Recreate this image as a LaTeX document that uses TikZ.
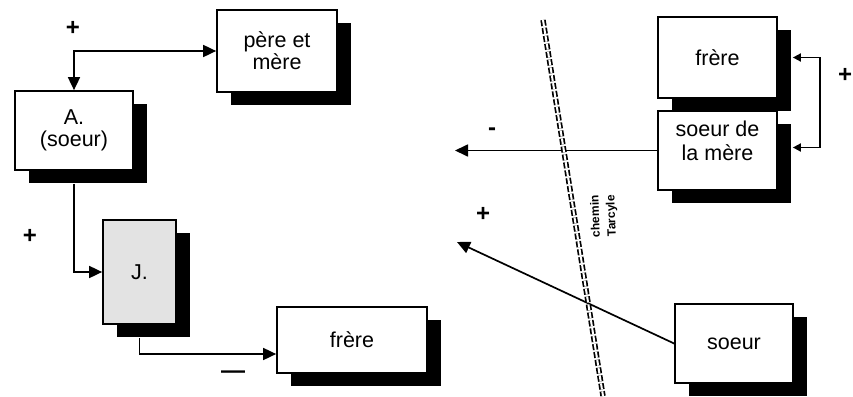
\documentclass[tikz,border=0pt]{standalone}
\usepackage{fontspec}
\setmainfont{Liberation Sans}
\usetikzlibrary{arrows.meta,shadows}

\begin{document}
\begin{tikzpicture}
    [x=1pt, y=-1pt, >={Triangle[length=13pt,width=12pt]},
     box/.style={draw, line width=1.7pt, fill=white, align=center, inner sep=0pt,
       font=\fontsize{21.5}{22}\selectfont,
       drop shadow={shadow xshift=14pt, shadow yshift=-13pt, fill=black, opacity=1}},
     link/.style={line width=1.7pt},
     sign/.style={font=\fontsize{24}{24}\selectfont\bfseries},
     road/.style={line width=1.7pt, double distance=2pt, dash pattern=on 6pt off 2pt}]
    \useasboundingbox (0,0) rectangle (853,396);
    \node[box, minimum width=120pt, minimum height=82pt] (pere) at (277,51) {père et\\mère};
    \node[box, minimum width=118pt, minimum height=79pt] (soeurA) at (74,130.5) {A.\\(soeur)};
    \node[box, minimum width=73pt, minimum height=104pt, fill=gray!22] (J) at (139.5,272) {J.};
    \node[box, minimum width=150pt, minimum height=66pt] (frere) at (352,340) {frère};
    \node[box, minimum width=119pt, minimum height=81pt] (frereB) at (717.5,57.5) {frère};
    \node[box, minimum width=119pt, minimum height=79pt] (tante) at (717.5,150.5) {};
    \node[font=\fontsize{21.5}{24}\selectfont, align=center] (tantetxt)
      at ([yshift=10pt]tante.center) {soeur de\\la mère};
    \node[box, minimum width=118pt, minimum height=79pt] (soeurB) at (734,343.5) {soeur};
    \draw[link, <->] (soeurA.north) |- (pere.west);
    \draw[link, ->] ([yshift=-13pt]soeurA.south) |- (J.west);
    \draw[link, ->] ([yshift=-13pt]J.south) |- ([yshift=-14pt]frere.west);
    \draw[link, <->, >={Triangle[length=8pt,width=8pt]}]
      ([xshift=15pt]frereB.east) -- ++(27pt,0) |- ([xshift=15pt,yshift=3pt]tante.east);
    \coordinate (outA) at (455,150.5);
    \coordinate (outB) at (457,242);
    \draw[link, ->] (tante.west) -- (outA);
    \draw[link, ->] (soeurB.west) -- (outB);
    \coordinate (roadtop) at (543,20);
    \coordinate (roadend) at (603,396);
    \draw[road] (roadtop) -- (roadend);
    \node[rotate=92, font=\fontsize{12}{16}\selectfont\bfseries, align=center] (chemin)
      at (604,216) {chemin\\Tarcyle};
    \node[sign] (plusA) at (73,28) {+};
    \node[sign] (plusJ) at (30,236) {+};
    \node[sign] (moinsF) at (233,375) {—};
    \node[sign] (plusF) at (845,75) {+};
    \node[sign] (moinsT) at (492,132) {-};
    \node[sign] (plusS) at (483,214) {+};
\end{tikzpicture}
\end{document}
